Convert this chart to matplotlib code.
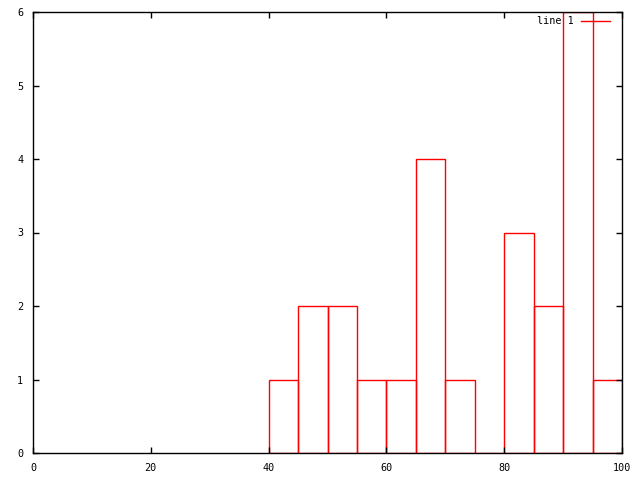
import matplotlib
matplotlib.use("Agg")
import matplotlib.pyplot as plt
from matplotlib.lines import Line2D

bin_left = [40, 45, 50, 55, 60, 65, 70, 75, 80, 85, 90, 95]
counts = [1, 2, 2, 1, 1, 4, 1, 0, 3, 2, 6, 1]
bin_width = 5
x_ticks = [0, 20, 40, 60, 80, 100]
y_ticks = [0, 1, 2, 3, 4, 5, 6]

plt.rcParams['font.family'] = ['DejaVu Sans Mono']
fig = plt.figure(figsize=(6.4, 4.8), dpi=100)
ax = fig.add_axes([33/640, 1-453/480, (622-33)/640, (453-12)/480])

ax.bar(bin_left, counts, width=bin_width, align='edge', fill=False,
       edgecolor='red', linewidth=1.0, zorder=1)
ax.set_xlim(0, 100)
ax.set_ylim(0, 6)
ax.set_xticks(x_ticks)
ax.set_yticks(y_ticks)
ax.tick_params(direction='in', length=4, width=1, top=True, right=True,
               labelsize=7.3, pad=7, colors='black')
for s in ax.spines.values():
    s.set_linewidth(1.0)
    s.set_zorder(3)

h = Line2D([], [], color='red', linewidth=1.0)
ax.legend([h], ['line 1'], loc='upper right', frameon=False, markerfirst=False,
          prop={'size': 7.3}, handlelength=2.9, handletextpad=0.7,
          bbox_to_anchor=((614-33)/589, 1.0), borderaxespad=0.0)

fig.savefig('out.png', dpi=100)
